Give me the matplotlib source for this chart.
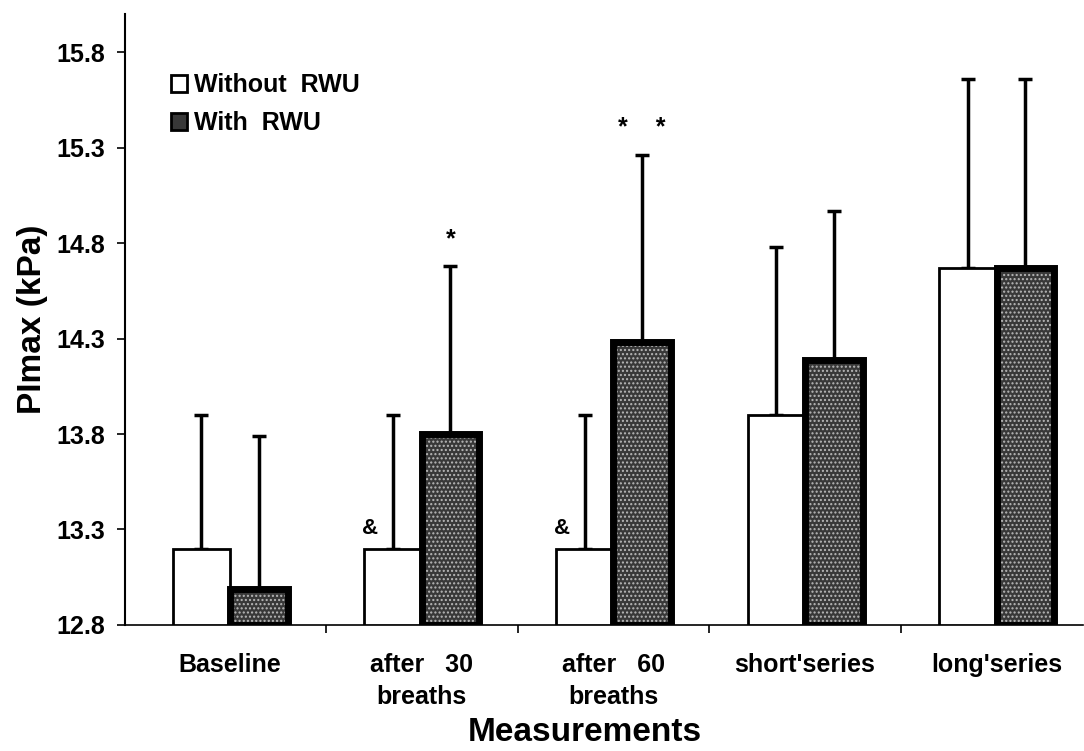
import matplotlib.pyplot as plt
import numpy as np

plt.rcParams['font.family'] = ['Liberation Sans', 'DejaVu Sans']
plt.rcParams['font.weight'] = 'bold'

categories = ['Baseline', 'after   30\nbreaths', 'after   60\nbreaths', "short'series", "long'series"]
without_rwu = [13.2, 13.2, 13.2, 13.9, 14.67]
without_err = [0.7, 0.7, 0.7, 0.88, 0.99]
with_rwu = [12.99, 13.8, 14.28, 14.19, 14.67]
with_err = [0.8, 0.88, 0.98, 0.78, 0.99]
with_marks = ['', '*', '*    *', '', '']
without_marks = ['', '&', '&', '', '']

fig = plt.figure(figsize=(10.84, 7.51), dpi=100)
ax = fig.add_axes([0.115, 0.168, 0.884, 0.813])

x = np.arange(len(categories))
w = 0.3
base = 12.8

ax.bar(x - w/2, np.array(without_rwu) - base, w, bottom=base, color='white',
       edgecolor='black', linewidth=2, label='Without  RWU', zorder=3)
ax.bar(x + w/2, np.array(with_rwu) - base, w, bottom=base, color='#383838',
       edgecolor='#b8b8b8', hatch='....', linewidth=0, zorder=3)
ax.bar(x + w/2, np.array(with_rwu) - base, w, bottom=base, fill=False,
       edgecolor='black', linewidth=5, zorder=4)
# legend proxy for dark bars
ax.bar([0], [0], 0, bottom=base, color='#383838', edgecolor='black',
       linewidth=2, label='With  RWU')

ax.errorbar(x - w/2, without_rwu, yerr=[np.zeros(5), without_err], fmt='none',
            ecolor='black', elinewidth=2.5, capsize=5, capthick=2.5, zorder=2)
ax.errorbar(x + w/2, with_rwu, yerr=[np.zeros(5), with_err], fmt='none',
            ecolor='black', elinewidth=2.5, capsize=5, capthick=2.5, zorder=2)

for i in range(len(categories)):
    if with_marks[i]:
        ax.text(x[i] + w/2, with_rwu[i] + with_err[i] + 0.08, with_marks[i],
                ha='center', va='bottom', fontsize=18, fontweight='bold')
    if without_marks[i]:
        ax.text(x[i] - w + 0.03, without_rwu[i] + 0.05, without_marks[i],
                ha='center', va='bottom', fontsize=16, fontweight='bold')

ax.set_ylim(12.8, 16.0)
ax.set_xlim(-0.55, 4.45)
ax.set_yticks([12.8, 13.3, 13.8, 14.3, 14.8, 15.3, 15.8])
ax.set_yticklabels(['12.8', '13.3', '13.8', '14.3', '14.8', '15.3', '15.8'])
ax.set_xticks(x)
ax.set_xticklabels(categories, fontsize=18, fontweight='bold', linespacing=1.45)
ax.set_xticks(x[:-1] + 0.5, minor=True)
ax.tick_params(axis='x', which='major', length=0, pad=20)
ax.tick_params(axis='x', which='minor', length=6, width=1.2, direction='out')
ax.tick_params(axis='y', length=6, width=1.2, labelsize=18, pad=8)

for s in ['top', 'right']:
    ax.spines[s].set_visible(False)
ax.spines['left'].set_linewidth(1.5)
ax.spines['bottom'].set_linewidth(1.2)

ax.set_ylabel('PImax (kPa)', fontsize=24, fontweight='bold', labelpad=6)
ax.set_xlabel('Measurements', fontsize=24, fontweight='bold')
ax.xaxis.set_label_coords(0.48, -0.176)
ax.xaxis.label.set_va('center')

ax.legend(loc='upper left', bbox_to_anchor=(0.025, 0.94), frameon=False,
          handlelength=0.65, handleheight=0.65, handletextpad=0.25,
          labelspacing=0.55, prop={'weight': 'bold', 'size': 18})

fig.savefig('out.png', dpi=100)
